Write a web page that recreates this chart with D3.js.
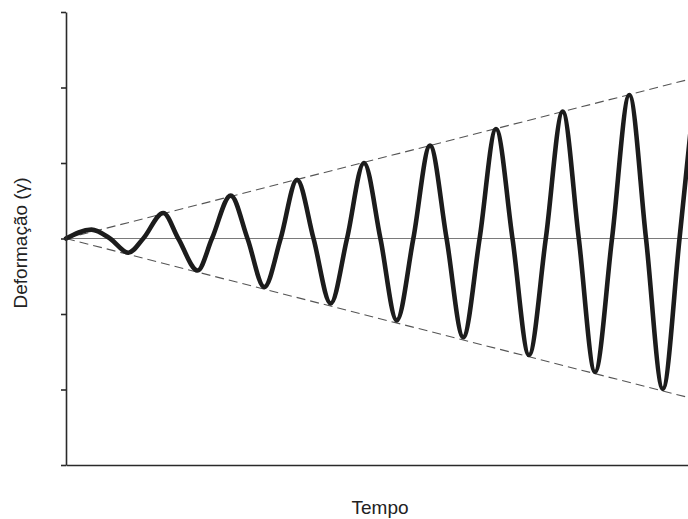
<!DOCTYPE html>
<html>
<head>
<meta charset="utf-8">
<script src="https://cdn.jsdelivr.net/npm/d3@7"></script>
<style>
  html, body { margin: 0; padding: 0; background: #fff; }
  svg { display: block; }
</style>
</head>
<body>
<script>
// Strain history: turning points and zero crossings of the growing oscillation
// (time in load cycles, strain in axis units)
const time = [
  0, 0.383, 0.662, 0.937, 1.162, 1.463, 1.688, 1.980, 2.195, 2.477,
  2.729, 2.982, 3.228, 3.474, 3.722, 3.980, 4.226, 4.481, 4.728, 4.973,
  5.223, 5.474, 5.723, 5.973, 6.220, 6.466, 6.714, 6.962, 7.215, 7.469,
  7.711, 7.955, 8.211, 8.471, 8.722, 8.974, 9.226, 9.474
];
const strain = [
  0, 0.118, 0, -0.188, 0, 0.338, 0, -0.423, 0, 0.568,
  0, -0.642, 0, 0.777, 0, -0.860, 0, 1.000, 0, -1.085,
  0, 1.230, 0, -1.307, 0, 1.450, 0, -1.543, 0, 1.681,
  0, -1.768, 0, 1.901, 0, -1.992, 0, 2.130
];

// Linear envelope of the strain amplitude
const envelopeTime = [0, 10];
const envelopeAmp = [0, 2.25];

// Y axis tick positions (no labels drawn)
const yTicks = [-3, -2, -1, 0, 1, 2, 3];

const width = 688, height = 519;

const x = d3.scaleLinear().domain([0, 10]).range([66, 731]);
const y = d3.scaleLinear().domain([-3, 3]).range([465, 12]);

const svg = d3.select("body").append("svg")
  .attr("width", width)
  .attr("height", height);

// Zero reference line
svg.append("line")
  .attr("x1", x(0)).attr("x2", x(10))
  .attr("y1", y(0)).attr("y2", y(0))
  .attr("stroke", "#7a7a7a")
  .attr("stroke-width", 1.2);

// Dashed envelope lines
const envLine = d3.line().x(d => x(d[0])).y(d => y(d[1]));
[1, -1].forEach(sign => {
  svg.append("path")
    .datum(envelopeTime.map((t, i) => [t, sign * envelopeAmp[i]]))
    .attr("d", envLine)
    .attr("fill", "none")
    .attr("stroke", "#555")
    .attr("stroke-width", 1.1)
    .attr("stroke-dasharray", "9,5");
});

// Oscillating strain curve
const strainLine = d3.line()
  .x((d, i) => x(time[i]))
  .y(d => y(d))
  .curve(d3.curveMonotoneX);

svg.append("path")
  .datum(strain)
  .attr("d", strainLine)
  .attr("fill", "none")
  .attr("stroke", "#1c1c1c")
  .attr("stroke-width", 4.6)
  .attr("stroke-linejoin", "round")
  .attr("stroke-linecap", "round");

// Axes
const yAxis = svg.append("g")
  .attr("transform", `translate(${x(0)},0)`)
  .call(d3.axisLeft(y).tickValues(yTicks).tickSize(5).tickSizeOuter(0).tickFormat(""));

const xAxis = svg.append("g")
  .attr("transform", `translate(0,${y(-3)})`)
  .call(d3.axisBottom(x).tickValues([]).tickSizeOuter(0));

[yAxis, xAxis].forEach(g => {
  g.selectAll("path, line").attr("stroke", "#2a2a2a").attr("stroke-width", 1.6);
});

// Axis titles
svg.append("text")
  .attr("x", 380)
  .attr("y", 514)
  .attr("text-anchor", "middle")
  .attr("font-family", "Liberation Sans, Arial, sans-serif")
  .attr("font-size", 19)
  .attr("fill", "#222")
  .text("Tempo");

svg.append("text")
  .attr("transform", "translate(27,243) rotate(-90)")
  .attr("text-anchor", "middle")
  .attr("font-family", "Liberation Sans, Arial, sans-serif")
  .attr("font-size", 19)
  .attr("fill", "#222")
  .text("Deformação (γ)");
</script>
</body>
</html>
